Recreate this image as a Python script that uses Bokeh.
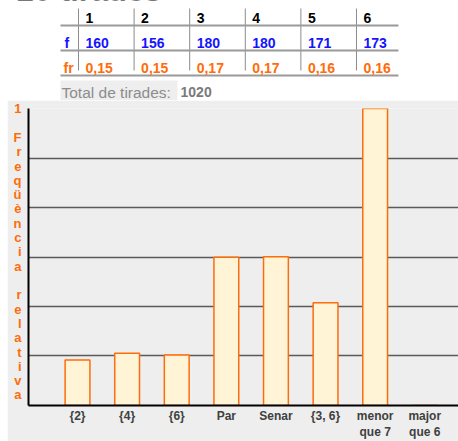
from bokeh.plotting import figure
from bokeh.models import Range1d, FixedTicker, Spacer
from bokeh.layouts import column, row
from bokeh.embed import file_html
from bokeh.resources import INLINE
from bokeh.core.properties import value

# ---- data ----
title = "20 tirades"
faces = ["1", "2", "3", "4", "5", "6"]
freq = [160, 156, 180, 180, 171, 173]
rel_freq = ["0,15", "0,15", "0,17", "0,17", "0,16", "0,16"]
total_label = "Total de tirades:"
total = "1020"
events = ["{2}", "{4}", "{6}", "Par", "Senar", "{3, 6}", "menor\nque 7", "major\nque 6"]
event_prob = [0.153, 0.176, 0.170, 0.499, 0.501, 0.346, 1.0, 0.0]
y_label_ticks = [1.0]
y_tick_text = ["1"]
grid_ticks = [0.0, 0.1667, 0.3333, 0.5, 0.6667, 0.8333, 1.0]
y_title = "Freqüència relativa"

FONT = "Liberation Sans"
ORANGE = "#ff6c0a"
BLUE = "#1414ff"

# ---- table figure ----
top = figure(width=458, height=100, x_range=Range1d(-1.403, 6.835),
             y_range=Range1d(3.3, -0.7), output_backend="svg",
             toolbar_location=None, min_border=0,
             x_axis_type=None, y_axis_type=None)
top.grid.visible = False
top.outline_line_color = None
top.background_fill_color = "white"
top.border_fill_color = "white"

top.text(x=[-1.11], y=[-1.12], text=[title], text_font=value(FONT),
         text_font_style="bold", text_font_size="31px", text_color="black",
         text_baseline="alphabetic", text_align="left")

cols = list(range(len(faces)))
text_x = [c + 0.126 for c in cols]

top.segment(x0=cols, x1=cols, y0=[-0.38] * len(cols), y1=[2.1] * len(cols),
            line_color="#8c8c8c", line_width=1)
rows = [0, 1, 2]
top.segment(x0=[-0.324] * 3, x1=[5.755] * 3,
            y0=[r + 0.3 for r in rows], y1=[r + 0.3 for r in rows],
            line_color="#9a9a9a", line_width=2)

top.text(x=text_x, y=[0] * len(cols), text=faces, text_font=value(FONT),
         text_font_style="bold", text_font_size="14px", text_color="black",
         text_baseline="middle", text_align="left")
top.text(x=text_x, y=[1] * len(cols), text=[str(v) for v in freq],
         text_font=value(FONT), text_font_style="bold", text_font_size="14px",
         text_color=BLUE, text_baseline="middle", text_align="left")
top.text(x=text_x, y=[2] * len(cols), text=rel_freq,
         text_font=value(FONT), text_font_style="bold", text_font_size="14px",
         text_color=ORANGE, text_baseline="middle", text_align="left")
top.text(x=[-0.25], y=[1], text=["f"], text_font=value(FONT),
         text_font_style="bold", text_font_size="14px", text_color=BLUE,
         text_baseline="middle", text_align="left")
top.text(x=[-0.27], y=[2], text=["fr"], text_font=value(FONT),
         text_font_style="bold", text_font_size="14px", text_color=ORANGE,
         text_baseline="middle", text_align="left")

top.quad(left=[-0.324], right=[1.78], top=[2.5], bottom=[3.3],
         fill_color="#eeeeee", line_color=None)
top.text(x=[-0.306], y=[2.96], text=[total_label], text_font=value(FONT),
         text_font_size="15.5px", text_color="#8c8c8c",
         text_baseline="middle", text_align="left")
top.text(x=[1.835], y=[2.96], text=[total], text_font=value(FONT),
         text_font_style="bold", text_font_size="14px", text_color="#7a7a7a",
         text_baseline="middle", text_align="left")

# ---- bar chart ----
GRAY = "#eeeeee"
p = figure(frame_width=430, frame_height=297, x_range=Range1d(-0.988, 7.68),
           y_range=Range1d(0, 1), output_backend="svg", toolbar_location=None,
           min_border_left=21, min_border_right=0, min_border_top=8,
           min_border_bottom=36)
p.background_fill_color = GRAY
p.border_fill_color = GRAY
p.outline_line_color = None

xs = list(range(len(events)))
p.vbar(x=xs, top=event_prob, width=0.5, bottom=0,
       fill_color="#fff4d6", line_color=ORANGE, line_width=1.5)

p.xgrid.visible = False
p.ygrid.ticker = FixedTicker(ticks=grid_ticks)
p.ygrid.grid_line_color = "#5a5a5a"
p.ygrid.grid_line_width = 1.5

# y axis: the "1" tick plus the stacked upright letters of the axis title
tick_vals = list(y_label_ticks)
tick_text = list(y_tick_text)
for i, ch in enumerate(y_title):
    if ch == " ":
        continue
    y_px = 137 + 14.3 * i                 # page pixel of letter centre
    tick_vals.append(round((405 - y_px) / 297, 5))
    tick_text.append(ch)

p.yaxis.ticker = FixedTicker(ticks=tick_vals)
p.yaxis.major_label_overrides = {v: t for v, t in zip(tick_vals, tick_text)}
p.yaxis.major_label_text_color = ORANGE
p.yaxis.major_label_text_font_style = "bold"
p.yaxis.major_label_text_font = FONT
p.yaxis.major_label_text_font_size = "13px"
p.yaxis.major_label_standoff = 7
p.yaxis.major_tick_line_color = None
p.yaxis.major_tick_out = 0
p.yaxis.major_tick_in = 0
p.yaxis.minor_tick_line_color = None
p.yaxis.axis_line_color = "black"
p.yaxis.axis_line_width = 2

p.xaxis.ticker = FixedTicker(ticks=xs)
p.xaxis.major_label_overrides = {i: e for i, e in enumerate(events)}
p.xaxis.major_label_text_font = FONT
p.xaxis.major_label_text_font_style = "bold"
p.xaxis.major_label_text_font_size = "12px"
p.xaxis.major_label_text_color = "#404040"
p.xaxis.major_label_standoff = 3
p.xaxis.major_tick_line_color = None
p.xaxis.major_tick_out = 0
p.xaxis.major_tick_in = 0
p.xaxis.minor_tick_line_color = None
p.xaxis.axis_line_color = "black"
p.xaxis.axis_line_width = 2

bottom = row(Spacer(width=7, height=341), p, spacing=0)
layout = column(top, bottom, spacing=0)
open("out.html", "w").write(file_html(layout, INLINE))
